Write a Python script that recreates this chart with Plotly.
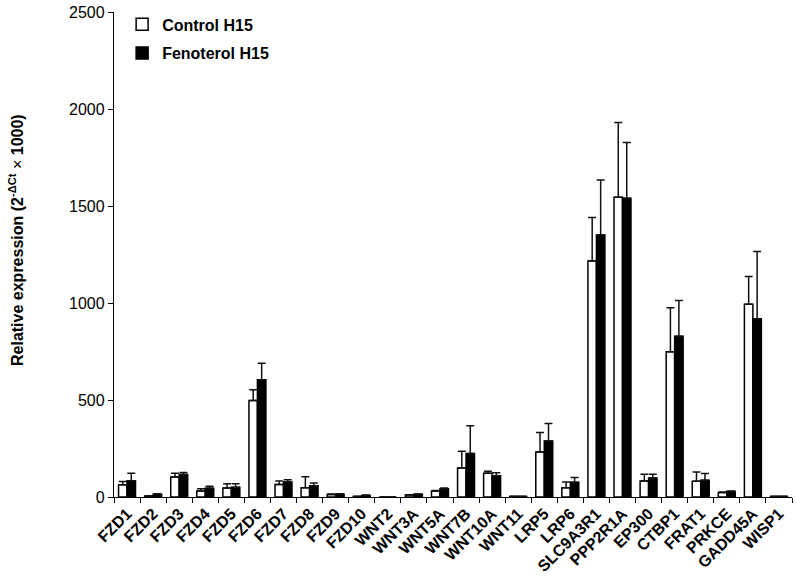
import plotly.graph_objects as go

genes = ["FZD1", "FZD2", "FZD3", "FZD4", "FZD5", "FZD6", "FZD7", "FZD8", "FZD9", "FZD10",
         "WNT2", "WNT3A", "WNT5A", "WNT7B", "WNT10A", "WNT11", "LRP5", "LRP6",
         "SLC9A3R1", "PPP2R1A", "EP300", "CTBP1", "FRAT1", "PRKCE", "GADD45A", "WISP1"]

control = [63, 5, 103, 31, 46, 498, 64, 48, 13, 3,
           0, 10, 31, 150, 122, 3, 232, 48,
           1217, 1545, 83, 749, 81, 23, 993, 3]
control_err = [17, 2, 20, 12, 22, 55, 18, 56, 3, 1,
               0, 2, 3, 86, 11, 1, 100, 29,
               224, 385, 34, 227, 48, 3, 144, 1]

fenoterol = [84, 14, 116, 45, 50, 604, 77, 58, 14, 8,
             0, 14, 43, 224, 110, 3, 289, 76,
             1350, 1540, 98, 828, 86, 28, 919, 3]
fenoterol_err = [38, 3, 10, 10, 18, 86, 12, 14, 3, 2,
                 0, 2, 3, 143, 15, 1, 90, 24,
                 284, 287, 19, 185, 35, 3, 347, 1]

FONT = "Arial, 'Liberation Sans', sans-serif"

def err(vals):
    return dict(type="data", array=vals, arrayminus=[0] * len(vals), symmetric=False,
                color="#111111", thickness=1.5, width=4)

fig = go.Figure()
fig.add_trace(go.Bar(
    x=genes, y=control, name="<b>Control H15</b>", legendgroup="c",
    marker=dict(color="white", line=dict(color="black", width=1.5)),
    error_y=err(control_err),
))
fig.add_trace(go.Bar(
    x=genes, y=fenoterol, name="<b>Fenoterol H15</b>", legendgroup="f",
    marker=dict(color="black", line=dict(color="black", width=1.5)),
    error_y=err(fenoterol_err),
))

W, H = 797, 582
L, R, T, B = 114, 5, 12, 85
plot_w = W - L - R
plot_h = H - T - B

fig.update_layout(
    width=W, height=H,
    margin=dict(l=L, r=R, t=T, b=B),
    paper_bgcolor="white", plot_bgcolor="white",
    barmode="group", bargap=0.35, bargroupgap=0,
    font=dict(family=FONT, color="black", size=13),
    showlegend=True,
    legend=dict(x=0.012, y=1.0095, xanchor="left", yanchor="top",
                font=dict(size=16, family=FONT, color="black"),
                bgcolor="rgba(0,0,0,0)", tracegroupgap=5, traceorder="grouped"),
    xaxis=dict(
        type="category", tickangle=-45, tickson="boundaries",
        ticks="outside", ticklen=5, tickcolor="black", tickwidth=1.3,
        showline=True, linecolor="black", linewidth=1.3,
        showgrid=False, zeroline=False,
        tickfont=dict(size=16, family=FONT, color="black", weight="bold"),
        range=[-0.5, 25.5], automargin=False,
    ),
    yaxis=dict(
        range=[0, 2500], tickvals=[0, 500, 1000, 1500, 2000, 2500],
        ticks="outside", ticklen=5, tickcolor="black", tickwidth=1.3,
        showline=True, linecolor="black", linewidth=1.3,
        showgrid=False, zeroline=False, automargin=False,
        tickfont=dict(size=16, family=FONT, color="black"),
    ),
    annotations=[dict(
        text="<b>Relative expression (2<sup>-ΔCt</sup></b> × <b>1000)</b>",
        textangle=-90, xref="paper", yref="paper",
        x=(16 - L) / plot_w, y=(T + plot_h - 240) / plot_h,
        xanchor="center", yanchor="middle", showarrow=False,
        font=dict(size=16, family=FONT, color="black"),
    )],
)

# remove the default 8px page margin so the figure sits at the window's corner
fig.write_html("out.html",
               config={"displayModeBar": False},
               post_script="document.body.style.margin='0';document.body.style.padding='0';")
